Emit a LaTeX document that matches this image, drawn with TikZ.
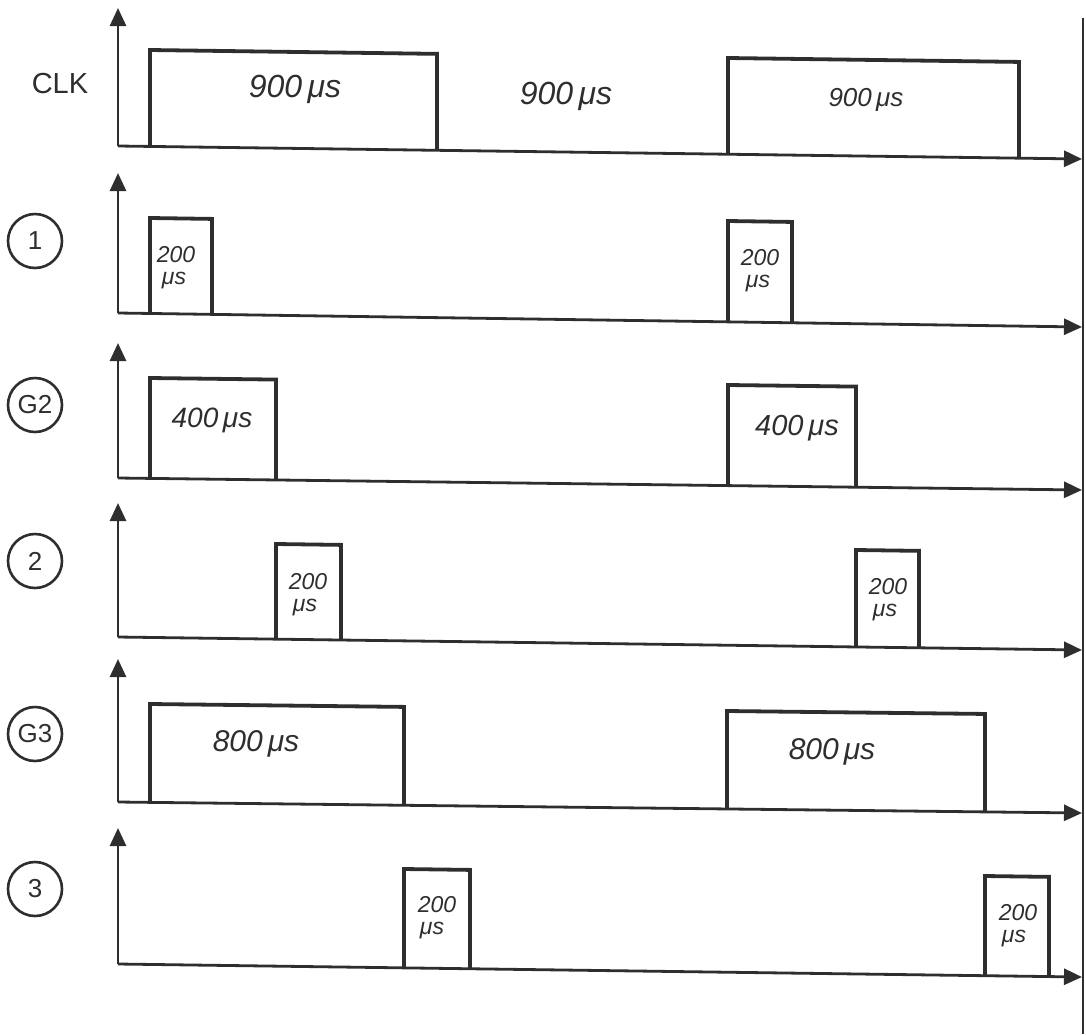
\documentclass[tikz,border=0pt]{standalone}
\usepackage{fontspec}
\setmainfont{Liberation Sans}
\usetikzlibrary{arrows.meta}
\definecolor{ink}{HTML}{2E2E2E}
\newcommand\yL{0}
\newcommand\yR{0}
\newcommand\pulsebox[3]{%
  \draw[pulse] ({#1},{\yL+(\yR-\yL)*(#1-118)/965}) -- ({#1},{#3})
    -- ({#2},{#3+(\yR-\yL)*(#2-#1)/965}) -- ({#2},{\yL+(\yR-\yL)*(#2-118)/965});}
\newcommand\axes[3]{% yL yR tip
  \renewcommand\yL{#1}\renewcommand\yR{#2}%
  \draw[axisline] (118,#1) -- (118,#3);
  \draw[axisline] (118,#1) -- (1082,#2);}
\begin{document}
\begin{tikzpicture}[x=1pt,y=-1pt,
  axisline/.style={draw=ink,line width=2.8pt,-{Triangle[length=18pt,width=16pt]}},
  pulse/.style={draw=ink,line width=3.8pt,line join=miter},
  hand/.style={text=ink,font=\fontsize{#1}{#1}\selectfont\itshape,inner sep=0pt},
  hand/.default=30,
  stack/.style={text=ink,font=\fontsize{23}{23}\selectfont\itshape,inner sep=0pt},
  sig/.style={circle,draw=ink,line width=2.6pt,minimum size=54pt,inner sep=0pt,text=ink,font=\fontsize{26}{26}\selectfont}]
\useasboundingbox (0,0) rectangle (1086,1034);
% right edge line
\draw[ink,line width=1.8pt] (1083,18) -- (1083,1034);

% CLK
\axes{146}{159}{8}
\pulsebox{150}{437}{50}
\pulsebox{728}{1019}{58}
\node[text=ink,font=\fontsize{29}{29}\selectfont,inner sep=0pt] (clk) at (60,84) {CLK};
\node[hand=32] (c1) at (295,89) {900\,μs};
\node[hand=32] (c2) at (566,96) {900\,μs};
\node[hand=26] (c3) at (866,100) {900\,μs};

% 1
\axes{313}{327}{173}
\pulsebox{150}{212}{218}
\pulsebox{728}{792}{221}
\node[sig] (s1) at (35,241) {1};
\node[stack] (l11a) at (176,255) {200};
\node[stack] (l11b) at (174,281) {μs};
\node[stack] (l12a) at (760,258) {200};
\node[stack] (l12b) at (758,284) {μs};

% G2
\axes{478}{490}{343}
\pulsebox{150}{276}{378}
\pulsebox{728}{856}{385}
\node[sig] (sg2) at (35,405) {G2};
\node[hand=28] (l21) at (212,420) {400\,μs};
\node[hand=29] (l22) at (797,428) {400\,μs};

% 2
\axes{637}{650}{503}
\pulsebox{276}{341}{544}
\pulsebox{856}{919}{550}
\node[sig] (s2) at (35,561) {2};
\node[stack] (l31a) at (308,582) {200};
\node[stack] (l31b) at (305,608) {μs};
\node[stack] (l32a) at (888,587) {200};
\node[stack] (l32b) at (885,613) {μs};

% G3
\axes{802}{813}{659}
\pulsebox{150}{404}{704}
\pulsebox{727}{985}{711}
\node[sig] (sg3) at (35,734) {G3};
\node[hand=30] (l41) at (256,744) {800\,μs};
\node[hand=30] (l42) at (832,752) {800\,μs};

% 3
\axes{964}{977}{828}
\pulsebox{404}{470}{869}
\pulsebox{985}{1049}{876}
\node[sig] (s3) at (35,889) {3};
\node[stack] (l51a) at (437,905) {200};
\node[stack] (l51b) at (432,931) {μs};
\node[stack] (l52a) at (1018,913) {200};
\node[stack] (l52b) at (1014,939) {μs};
\end{tikzpicture}
\end{document}
